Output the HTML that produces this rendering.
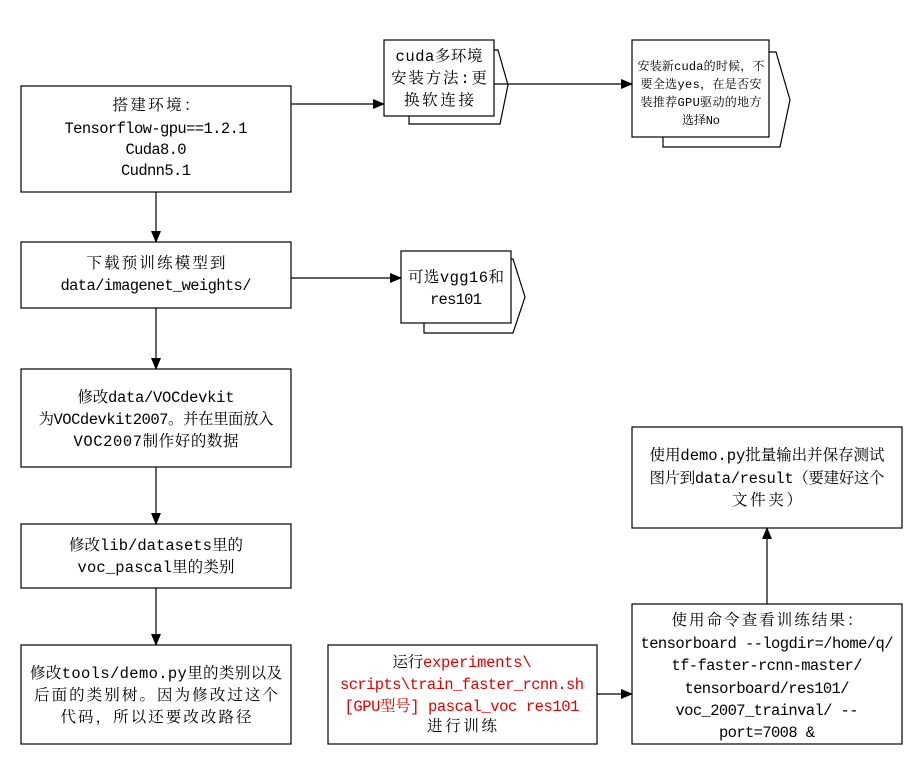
<!DOCTYPE html>
<html><head><meta charset="utf-8"><style>
html,body{margin:0;padding:0;background:#fff;}
svg{display:block;}
text{font-family:"Liberation Mono","Noto Serif CJK SC",monospace;font-size:15.5px;fill:#000;}
.s{font-size:12px;}
.r{fill:#e00000;}
</style></head><body>
<svg width="917" height="761" viewBox="0 0 917 761" xmlns="http://www.w3.org/2000/svg">
<defs><marker id="a" markerWidth="12" markerHeight="10" refX="11" refY="5" orient="auto" markerUnits="userSpaceOnUse"><path d="M0,0 L12,5 L0,10 z" fill="#000"/></marker></defs>
<g fill="#fff" stroke="#000" stroke-width="1.2">
<rect x="21" y="86" width="270" height="106"/>
<rect x="21" y="242" width="270" height="66"/>
<rect x="21" y="369" width="270" height="98"/>
<rect x="21" y="524" width="270" height="64"/>
<rect x="21" y="645" width="270" height="99"/>
<rect x="328" y="645" width="269" height="99"/>
<rect x="632" y="604" width="270" height="140"/>
<rect x="632" y="427" width="270" height="101"/>
<polyline points="494,50 498,50 508,85 500,124 409,124 409,116"/>
<rect x="384" y="40" width="110" height="76"/>
<polyline points="769,52 776,52 790,100 780,147 663,147 663,137"/>
<rect x="632" y="40" width="137" height="97"/>
<polyline points="511,259 513,259 525,297 513,333 424,333 424,323"/>
<rect x="401" y="251" width="110" height="72"/>
</g>
<g stroke="#000" stroke-width="1.2" fill="none" marker-end="url(#a)">
<line x1="291" y1="104" x2="384" y2="104"/>
<line x1="494" y1="84" x2="632" y2="84"/>
<line x1="291" y1="278" x2="401" y2="278"/>
<line x1="156" y1="192" x2="156" y2="242"/>
<line x1="156" y1="308" x2="156" y2="369"/>
<line x1="156" y1="467" x2="156" y2="524"/>
<line x1="156" y1="588" x2="156" y2="645"/>
<line x1="597" y1="694" x2="632" y2="694"/>
<line x1="767" y1="604" x2="767" y2="528"/>
</g>
<g text-anchor="middle" lengthAdjust="spacing">
<text x="156" y="110" textLength="87">搭建环境：</text>
<text x="156" y="133" textLength="183">Tensorflow-gpu==1.2.1</text>
<text x="156" y="154" textLength="61">Cuda8.0</text>
<text x="156" y="175" textLength="70">Cudnn5.1</text>
<text x="439" y="61" textLength="87">cuda多环境</text>
<text x="439" y="83" textLength="96">安装方法:更</text>
<text x="439" y="105" textLength="70">换软连接</text>
<text class="s" x="701" y="70" textLength="127">安装新cuda的时候，不</text>
<text class="s" x="701" y="88" textLength="121">要全选yes，在是否安</text>
<text class="s" x="701" y="106" textLength="121">装推荐GPU驱动的地方</text>
<text class="s" x="701" y="124" textLength="38">选择No</text>
<text x="156" y="268" textLength="139">下载预训练模型到</text>
<text x="156" y="290" textLength="191">data/imagenet_weights/</text>
<text x="456" y="282" textLength="96">可选vgg16和</text>
<text x="456" y="304" textLength="52">res101</text>
<text x="156" y="402" textLength="157">修改data/VOCdevkit</text>
<text x="156" y="424" textLength="235">为VOCdevkit2007。并在里面放入</text>
<text x="156" y="446" textLength="165">VOC2007制作好的数据</text>
<text x="156" y="550" textLength="174">修改lib/datasets里的</text>
<text x="156" y="572" textLength="157">voc_pascal里的类别</text>
<text x="156" y="678" textLength="252">修改tools/demo.py里的类别以及</text>
<text x="156" y="700" textLength="244">后面的类别树。因为修改过这个</text>
<text x="156" y="722" textLength="191">代码，所以还要改改路径</text>
<text x="462" y="667" textLength="139">运行<tspan class="r">experiments\</tspan></text>
<text class="r" x="462" y="689" textLength="244">scripts\train_faster_rcnn.sh</text>
<text class="r" x="462" y="711" textLength="235">[GPU型号] pascal_voc res101</text>
<text x="462" y="731" textLength="70">进行训练</text>
<text x="767" y="625" textLength="191">使用命令查看训练结果：</text>
<text x="767" y="648" textLength="253">tensorboard --logdir=/home/q/</text>
<text x="767" y="670" textLength="191">tf-faster-rcnn-master/</text>
<text x="767" y="693" textLength="165">tensorboard/res101/</text>
<text x="767" y="715" textLength="183">voc_2007_trainval/ --</text>
<text x="767" y="737" textLength="96">port=7008 &amp;</text>
<text x="767" y="460" textLength="235">使用demo.py批量输出并保存测试</text>
<text x="767" y="483" textLength="235">图片到data/result（要建好这个</text>
<text x="767" y="505" textLength="70">文件夹）</text>
</g>
</svg>
</body></html>
